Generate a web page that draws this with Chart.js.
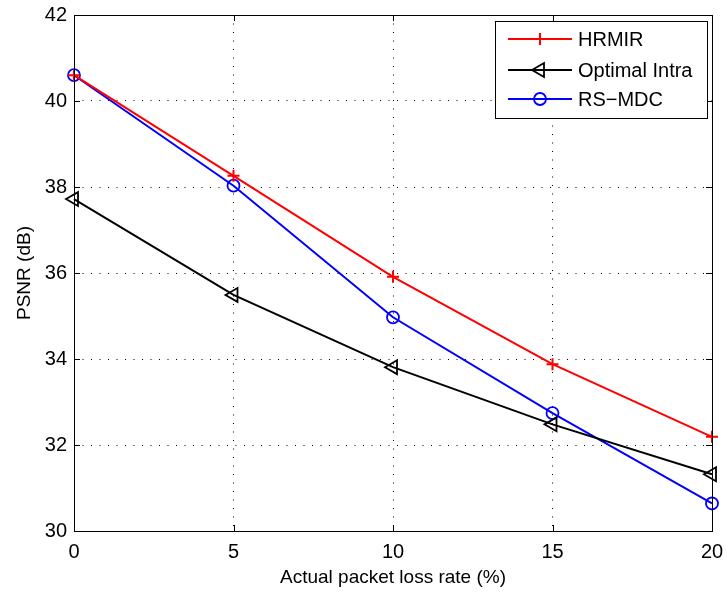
<!DOCTYPE html>
<html>
<head>
<meta charset="utf-8">
<title>PSNR vs packet loss</title>
<script src="https://cdn.jsdelivr.net/npm/chart.js@4/dist/chart.umd.min.js"></script>
<style>
  html,body{margin:0;padding:0;background:#fff;}
  canvas{display:block;}
</style>
</head>
<body>
<canvas id="c" width="727" height="594"></canvas>
<script>
const lossRates = [0, 5, 10, 15, 20];
const hrmir = [40.6, 38.26, 35.91, 33.88, 32.19];
const optimalIntra = [37.72, 35.49, 33.81, 32.48, 31.32];
const rsMdc = [40.6, 38.03, 34.97, 32.74, 30.64];
const xTicks = [0, 5, 10, 15, 20];
const yTicks = [30, 32, 34, 36, 38, 40, 42];

const FONT = "'Liberation Sans', Arial, Helvetica, sans-serif";

function pts(ys){ return lossRates.map((x,i)=>({x, y:ys[i]})); }

// box around the plot plus inward tick marks on all four sides
const boxPlugin = {
  id:"box",
  afterDatasetsDraw(chart){
    const {ctx, chartArea:a, scales:{x, y}} = chart;
    ctx.save();
    ctx.strokeStyle="#000";
    ctx.lineWidth=1;
    ctx.beginPath();
    const tl=6;
    xTicks.forEach(v=>{
      const px=Math.round(x.getPixelForValue(v))+0.5;
      ctx.moveTo(px,a.bottom); ctx.lineTo(px,a.bottom-tl);
      ctx.moveTo(px,a.top); ctx.lineTo(px,a.top+tl);
    });
    yTicks.forEach(v=>{
      const py=Math.round(y.getPixelForValue(v))+0.5;
      ctx.moveTo(a.left,py); ctx.lineTo(a.left+tl,py);
      ctx.moveTo(a.right,py); ctx.lineTo(a.right-tl,py);
    });
    ctx.stroke();
    ctx.strokeRect(Math.round(a.left)+0.5, Math.round(a.top)+0.5, Math.round(a.right-a.left), Math.round(a.bottom-a.top));
    ctx.restore();
  }
};

// legend drawn inside the top-right corner of the plot
const legendPlugin = {
  id:"insideLegend",
  afterDraw(chart){
    const {ctx, chartArea:a} = chart;
    const w=212, h=97;
    const x0=a.right-5-w, y0=a.top+6;
    ctx.save();
    ctx.fillStyle="#fff";
    ctx.fillRect(x0,y0,w,h);
    ctx.strokeStyle="#000";
    ctx.lineWidth=1;
    ctx.strokeRect(Math.round(x0)+0.5, Math.round(y0)+0.5, w, h);
    const rows=[18,49,78];
    chart.data.datasets.forEach((ds,i)=>{
      const ry=y0+rows[i];
      ctx.strokeStyle=ds.borderColor;
      ctx.lineWidth=ds.borderWidth;
      ctx.beginPath(); ctx.moveTo(x0+13,ry); ctx.lineTo(x0+77,ry); ctx.stroke();
      ctx.lineWidth=ds.pointBorderWidth;
      ctx.fillStyle="rgba(0,0,0,0)";
      Chart.helpers.drawPoint(ctx,{pointStyle:ds.pointStyle, rotation:ds.pointRotation||0, radius:ds.pointRadius, borderWidth:ds.pointBorderWidth}, x0+45, ry);
      ctx.fillStyle="#000";
      ctx.font="20px "+FONT;
      ctx.textBaseline="middle";
      ctx.fillText(ds.label, x0+83, ry+1);
    });
    ctx.restore();
  }
};

const common = {showLine:true, borderWidth:2, pointBorderWidth:1.8, backgroundColor:"rgba(0,0,0,0)", pointBackgroundColor:"rgba(0,0,0,0)", tension:0, clip:false};

new Chart(document.getElementById("c"), {
  type:"scatter",
  data:{ datasets:[
    {...common, label:"HRMIR", data:pts(hrmir), borderColor:"#ff0000", pointBorderColor:"#ff0000", pointStyle:"cross", pointRadius:6, pointBorderWidth:2},
    {...common, label:"Optimal Intra", data:pts(optimalIntra), borderColor:"#000000", pointBorderColor:"#000000", pointStyle:"triangle", pointRotation:-90, pointRadius:8},
    {...common, label:"RS\u2212MDC", data:pts(rsMdc), borderColor:"#0000ff", pointBorderColor:"#0000ff", pointStyle:"circle", pointRadius:6}
  ]},
  options:{
    responsive:false,
    animation:false,
    devicePixelRatio:1,
    layout:{ padding:{left:0, right:15, top:15, bottom:0} },
    plugins:{ legend:{display:false}, tooltip:{enabled:false} },
    scales:{
      x:{
        type:"linear", min:0, max:20,
        afterBuildTicks(s){ s.ticks = xTicks.map(v=>({value:v})); },
        afterFit(s){ s.height = 63; s.paddingLeft = 0; s.paddingRight = 0; },
        grid:{ color:"#000", lineWidth:1, drawTicks:false },
        border:{ display:false, dash:[1,7.5] },
        ticks:{ color:"#000", font:{family:FONT, size:20}, padding:9, maxRotation:0 },
        title:{ display:true, text:"Actual packet loss rate (%)", color:"#000", font:{family:FONT, size:19}, padding:{top:0, bottom:5} }
      },
      y:{
        type:"linear", min:30, max:42,
        afterBuildTicks(s){ s.ticks = yTicks.map(v=>({value:v})); },
        afterFit(s){ s.width = 74; s.paddingTop = 0; s.paddingBottom = 0; },
        grid:{ color:"#000", lineWidth:1, drawTicks:false },
        border:{ display:false, dash:[1,7.5] },
        ticks:{ color:"#000", font:{family:FONT, size:20}, padding:7 },
        title:{ display:true, text:"PSNR (dB)", color:"#000", font:{family:FONT, size:19}, padding:{top:13, bottom:0} }
      }
    }
  },
  plugins:[boxPlugin, legendPlugin]
});
</script>
</body>
</html>
